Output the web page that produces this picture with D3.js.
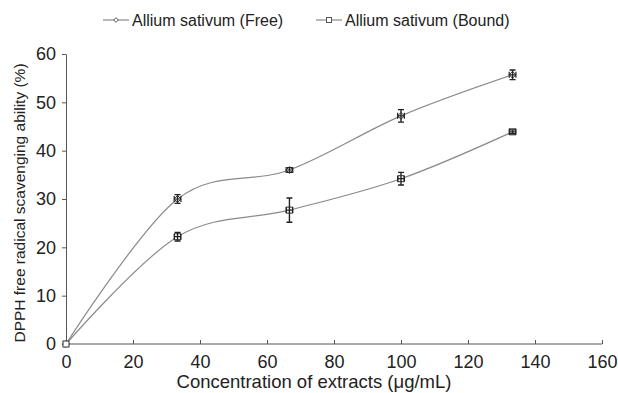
<!DOCTYPE html>
<html>
<head>
<meta charset="utf-8">
<script src="https://cdn.jsdelivr.net/npm/d3@7"></script>
<style>
  body { margin: 0; background: #fff; }
  text { font-family: "Liberation Sans", Arial, sans-serif; fill: #222; }
</style>
</head>
<body>
<svg id="chart" width="618" height="393"></svg>
<script>
// data
const concentrations = [0, 33.3, 66.7, 100, 133.3];
const freeValues = [0, 30.0, 36.0, 47.2, 55.7];
const freeErrors = [0, 0.9, 0.5, 1.3, 1.0];
const boundValues = [0, 22.2, 27.7, 34.2, 43.9];
const boundErrors = [0, 0.9, 2.5, 1.3, 0.4];
const xErrors = [0, 1, 1, 1, 1];
const xTicks = [0, 20, 40, 60, 80, 100, 120, 140, 160];
const yTicks = [0, 10, 20, 30, 40, 50, 60];
const seriesNames = ["Allium sativum (Free)", "Allium sativum (Bound)"];

const margin = { top: 54, left: 66, right: 16, bottom: 49 };
const width = 618, height = 393;
const svg = d3.select("#chart");

const x = d3.scaleLinear().domain([0, 160]).range([margin.left, width - margin.right]);
const y = d3.scaleLinear().domain([0, 60]).range([height - margin.bottom, margin.top]);

// axes
const xAxis = svg.append("g")
  .attr("transform", `translate(0,${y(0)})`)
  .call(d3.axisBottom(x).tickValues(xTicks).tickSizeInner(-4).tickSizeOuter(0).tickPadding(11));
const yAxis = svg.append("g")
  .attr("transform", `translate(${x(0)},0)`)
  .call(d3.axisLeft(y).tickValues(yTicks).tickSizeInner(4).tickSizeOuter(0).tickPadding(6));
[xAxis, yAxis].forEach(a => {
  a.selectAll("path, line").attr("stroke", "#555");
  a.selectAll("text").attr("font-size", 18).attr("fill", "#222")
    .attr("font-family", '"Liberation Sans", Arial, sans-serif');
});
xAxis.select(".domain").attr("d", `M${x(0)},0H${x(160)}`);

svg.append("text")
  .attr("x", 314).attr("y", 388)
  .attr("text-anchor", "middle").attr("font-size", 18.5)
  .text("Concentration of extracts (μg/mL)");
svg.append("text")
  .attr("transform", `translate(25,${(y(0) + y(60)) / 2 + 4}) rotate(-90)`)
  .attr("text-anchor", "middle").attr("font-size", 15.5)
  .text("DPPH free radical scavenging ability (%)");

const line = d3.line()
  .x(d => x(d[0])).y(d => y(d[1]))
  .curve(d3.curveCardinal.tension(0));

const series = [
  { name: seriesNames[0], values: freeValues, errors: freeErrors, marker: "diamond" },
  { name: seriesNames[1], values: boundValues, errors: boundErrors, marker: "square" }
];

function drawMarker(g, type, cx, cy) {
  if (type === "square") {
    g.append("rect").attr("x", cx - 3).attr("y", cy - 3).attr("width", 6).attr("height", 6)
      .attr("fill", "#fff").attr("stroke", "#333").attr("stroke-width", 1);
  } else {
    g.append("path").attr("d", d3.symbol(d3.symbolDiamond2, 30)())
      .attr("transform", `translate(${cx},${cy})`)
      .attr("fill", "#fff").attr("stroke", "#333").attr("stroke-width", 1);
  }
}

series.forEach(s => {
  const pts = concentrations.map((c, i) => [c, s.values[i]]);
  svg.append("path").attr("d", line(pts))
    .attr("fill", "none").attr("stroke", "#8a8a8a").attr("stroke-width", 1.2);
  const g = svg.append("g");
  pts.forEach((p, i) => {
    const cx = x(p[0]), cy = y(p[1]);
    drawMarker(g, s.marker, cx, cy);
    const e = s.errors[i];
    if (e > 0) {
      const y1 = y(p[1] + e), y2 = y(p[1] - e);
      g.append("path")
        .attr("d", `M${cx},${y1}V${y2}M${cx - 3},${y1}H${cx + 3}M${cx - 3},${y2}H${cx + 3}`)
        .attr("stroke", "#222").attr("stroke-width", 1.4).attr("fill", "none");
    }
    const xe = xErrors[i];
    if (xe > 0) {
      const x1 = x(p[0] - xe), x2 = x(p[0] + xe);
      g.append("path")
        .attr("d", `M${x1},${cy}H${x2}M${x1},${cy - 3}V${cy + 3}M${x2},${cy - 3}V${cy + 3}`)
        .attr("stroke", "#222").attr("stroke-width", 1.2).attr("fill", "none");
    }
  });
});

// legend
const legendX = [103, 316];
series.forEach((s, i) => {
  const lg = svg.append("g").attr("transform", `translate(${legendX[i]},20)`);
  lg.append("line").attr("x1", 0).attr("x2", 26).attr("y1", 0).attr("y2", 0)
    .attr("stroke", "#8a8a8a").attr("stroke-width", 1.2);
  if (s.marker === "square") {
    lg.append("rect").attr("x", 10.5).attr("y", -2.5).attr("width", 5).attr("height", 5)
      .attr("fill", "#fff").attr("stroke", "#555");
  } else {
    lg.append("path").attr("d", d3.symbol(d3.symbolDiamond2, 14)())
      .attr("transform", "translate(13,0)").attr("fill", "#fff").attr("stroke", "#555");
  }
  lg.append("text").attr("x", 29).attr("y", 6).attr("font-size", 16).text(s.name);
});
</script>
</body>
</html>
